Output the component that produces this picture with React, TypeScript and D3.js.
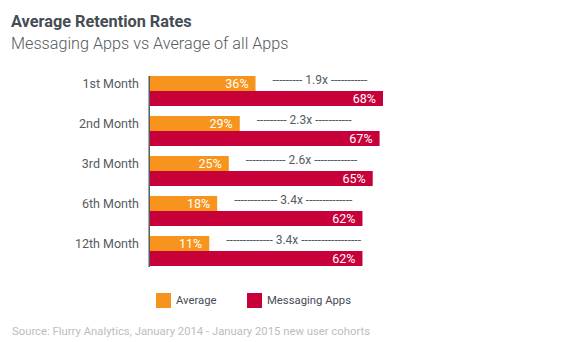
import React from "react";
import * as d3 from "d3";

const categories = ["1st Month", "2nd Month", "3rd Month", "6th Month", "12th Month"];
// labels shown in the bars
const averageValues = [36, 29, 25, 18, 11];
const messagingValues = [68, 67, 65, 62, 62];
// bar lengths as drawn in the reference (percentage units)
const averageBarValues = [30.8, 26.2, 23.0, 19.6, 17.3];
const multipliers = ["1.9x", "2.3x", "2.6x", "3.4x", "3.4x"];
const dashCounts: [number, number][] = [[9, 11], [9, 11], [12, 13], [13, 14], [14, 18]];

const ORANGE = "#f7941d";
const RED = "#c8003a";
const FONT = "Roboto, 'Noto Sans', sans-serif";

export default function App() {
  const W = 574, H = 342;
  const x0 = 150;
  const x = d3.scaleLinear().domain([0, 68]).range([x0, x0 + 233]);
  const y = d3.scaleBand<string>().domain(categories).range([76, 276]).paddingInner(0).paddingOuter(0);
  const barH = 15;

  return (
    <svg width={W} height={H} style={{ position: "absolute", left: 0, top: 0, background: "#fff" }} fontFamily={FONT}>
      <text x={11} y={27} fontSize={16.3} fontWeight={700} fill="#454c54">Average Retention Rates</text>
      <text x={11} y={49} fontSize={16.2} fontWeight={300} fill="#555b61">Messaging Apps vs Average of all Apps</text>

      {categories.map((c, i) => {
        const top = y(c)!;
        const aEnd = x(averageBarValues[i]);
        const mEnd = x(messagingValues[i]);
        const [l, r] = dashCounts[i];
        return (
          <g key={c}>
            <text x={139} y={top + barH / 2} dy="0.35em" textAnchor="end" fontSize={12.5} fill="#555b61">{c}</text>
            <rect x={x0} y={top} width={aEnd - x0} height={barH} fill={ORANGE} />
            <rect x={x0} y={top + barH} width={mEnd - x0} height={barH} fill={RED} />
            <text x={aEnd - 7} y={top + barH / 2} dy="0.36em" textAnchor="end" fontSize={12.5} fill="#fff">{averageValues[i]}%</text>
            <text x={mEnd - 7} y={top + barH * 1.5} dy="0.36em" textAnchor="end" fontSize={12.5} fill="#fff">{messagingValues[i]}%</text>
            <text x={aEnd + 17} y={top + 4} dy="0.35em" fontSize={12} fill="#555b61">
              {"-".repeat(l) + " " + multipliers[i] + " " + "-".repeat(r)}
            </text>
          </g>
        );
      })}
      <line x1={149.25} x2={149.25} y1={76} y2={267} stroke="#555b61" strokeWidth={1.5} />

      <rect x={156} y={293} width={15} height={15} fill={ORANGE} />
      <text x={176} y={300.5} dy="0.35em" fontSize={11.3} fill="#454c54">Average</text>
      <rect x={247} y={293} width={15} height={15} fill={RED} />
      <text x={267} y={300.5} dy="0.35em" fontSize={11.3} fill="#454c54">Messaging Apps</text>

      <text x={12} y={331} dy="0.35em" fontSize={11.3} fill="#bdbdbd">Source: Flurry Analytics, January 2014 - January 2015 new user cohorts</text>
    </svg>
  );
}
